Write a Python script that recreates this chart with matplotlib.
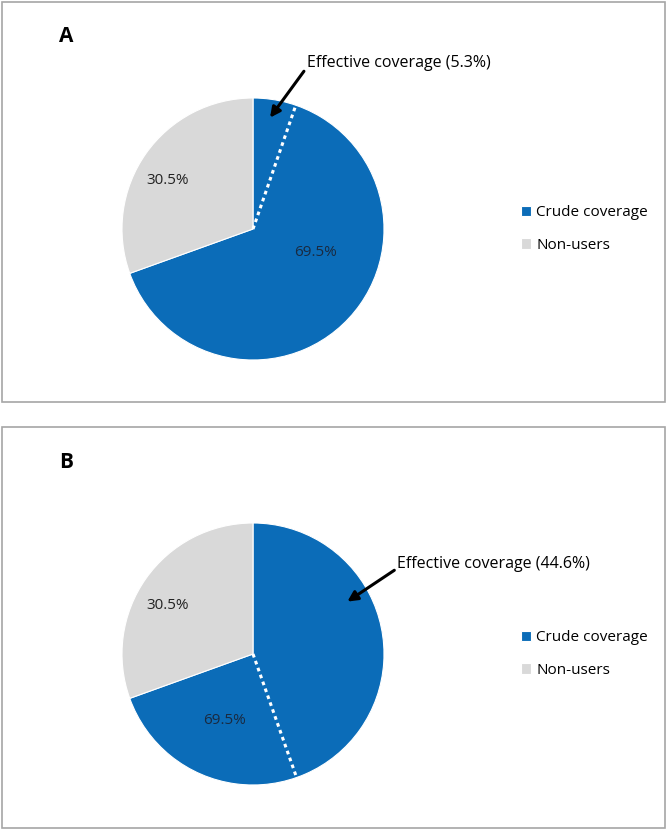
import numpy as np
import matplotlib.pyplot as plt
from matplotlib.patches import Rectangle

# data
panels = ['A', 'B']
categories = ['Crude coverage', 'Non-users']
crude = [69.5, 69.5]
non_users = [30.5, 30.5]
effective = [5.3, 44.6]

blue = '#0b6cb8'
grey = '#d9d9d9'

W, H = 669, 831
fig = plt.figure(figsize=(W / 100, H / 100), dpi=100)
plt.rcParams['font.family'] = ['Open Sans', 'DejaVu Sans']


def px_box(x0, y0, w, h):
    # pixel box (top-left origin) -> figure fraction
    return [x0 / W, 1 - (y0 + h) / H, w / W, h / H]


panel_tops = [2, 427]
panel_heights = [400, 401]
arrow_tips = [(0.13, 0.85), (0.72, 0.40)]
text_pos = [(0.41, 1.27), (1.10, 0.69)]
crude_lbl = [(0.48, -0.18), (-0.22, -0.51)]

for i in range(2):
    top = panel_tops[i]
    # panel frame
    fig.patches.append(Rectangle((2 / W, 1 - (top + panel_heights[i]) / H),
                                 663 / W, panel_heights[i] / H,
                                 transform=fig.transFigure, fill=False,
                                 edgecolor='#a6a6a6', linewidth=1.2))
    fig.text(66 / W, 1 - (top + 35) / H, panels[i], fontsize=15,
             fontweight='bold', ha='center', va='center')

    ax = fig.add_axes(px_box(122, top + 96, 262, 262))
    wedges, texts = ax.pie([crude[i], non_users[i]], colors=[blue, grey],
                           startangle=90, counterclock=False, radius=1,
                           wedgeprops=dict(edgecolor='white', linewidth=0.8))
    ax.set_xlim(-1, 1)
    ax.set_ylim(-1, 1)
    ax.set_aspect('equal')
    ax.axis('off')

    # dotted separator for effective coverage
    theta = np.deg2rad(90 - 360 * effective[i] / 100)
    ax.plot([0, np.cos(theta)], [0, np.sin(theta)], color='white',
            linestyle=(0, (1.2, 1.2)), linewidth=2.2)

    # percentage labels
    ax.text(crude_lbl[i][0], crude_lbl[i][1], f'{crude[i]}%', fontsize=11,
            color='#1a2a40', ha='center', va='center')
    ax.text(-0.65, 0.37, f'{non_users[i]}%', fontsize=11, color='#222222',
            ha='center', va='center')

    ax.annotate(f'Effective coverage ({effective[i]}%)', xy=arrow_tips[i],
                xytext=text_pos[i], textcoords='data', fontsize=11.5,
                ha='left', va='center', annotation_clip=False,
                arrowprops=dict(arrowstyle='-|>', color='black', lw=2.2,
                                mutation_scale=15, shrinkA=0, shrinkB=0,
                                relpos=(0, 0.2)))

    # legend
    ax.legend(wedges, categories, loc='center left',
              bbox_to_anchor=(1.47, 0.5), frameon=False, fontsize=11,
              handlelength=0.65, handleheight=0.65, handletextpad=0.35,
              labelspacing=1.15)

fig.savefig('out.png', dpi=100)
